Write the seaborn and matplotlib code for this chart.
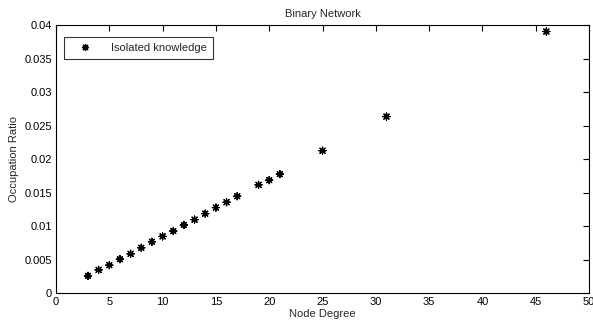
import matplotlib
matplotlib.use("Agg")
import matplotlib.pyplot as plt
import seaborn as sns
import pandas as pd

# Node degree vs. occupation ratio for the binary network
node_degree = [3, 4, 5, 6, 7, 8, 9, 10, 11, 12, 13, 14, 15, 16, 17, 19, 20, 21, 25, 31, 46]
occupation_ratio = [0.0026, 0.0035, 0.0042, 0.0051, 0.0059, 0.0068, 0.0077, 0.0085,
                    0.0093, 0.0102, 0.0110, 0.0119, 0.0128, 0.0136, 0.0145, 0.0162,
                    0.0169, 0.0178, 0.0213, 0.0264, 0.0391]
series_name = "Isolated knowledge"

x_ticks = [0, 5, 10, 15, 20, 25, 30, 35, 40, 45, 50]
y_ticks = [0, 0.005, 0.01, 0.015, 0.02, 0.025, 0.03, 0.035, 0.04]
y_tick_labels = ["0", "0.005", "0.01", "0.015", "0.02", "0.025", "0.03", "0.035", "0.04"]

df = pd.DataFrame({"Node Degree": node_degree, "Occupation Ratio": occupation_ratio,
                   "series": series_name})

sns.set_style("white")
plt.rcParams["font.family"] = ["Liberation Sans", "DejaVu Sans"]
plt.rcParams["font.size"] = 8

fig = plt.figure(figsize=(5.93, 3.24), dpi=100)
ax = fig.add_axes([0.0944, 0.0948, 0.8989, 0.8265])

sns.scatterplot(data=df, x="Node Degree", y="Occupation Ratio", hue="series",
                palette=["black"], marker=(8, 2, 0), s=26, linewidth=0.9,
                ax=ax, legend=True)

ax.set_xlim(0, 50)
ax.set_ylim(0, 0.04)
ax.set_xticks(x_ticks)
ax.set_xticklabels([str(t) for t in x_ticks])
ax.set_yticks(y_ticks)
ax.set_yticklabels(y_tick_labels)
ax.tick_params(direction="in", length=4, width=0.8, top=True, right=True,
               labelsize=8, colors="black", pad=3)
for side in ax.spines.values():
    side.set_color("black")
    side.set_linewidth(0.8)

ax.set_title("Binary Network", fontsize=8, pad=6)
ax.set_xlabel("Node Degree", fontsize=8, labelpad=1)
ax.set_ylabel("Occupation Ratio", fontsize=8, labelpad=4)

leg = ax.legend(loc="upper left", bbox_to_anchor=(0.015, 0.957), frameon=True,
                fancybox=False, fontsize=8, borderpad=0.55, handletextpad=1.1,
                borderaxespad=0.0, handlelength=2.6)
leg.get_frame().set_edgecolor("black")
leg.get_frame().set_linewidth(0.8)

fig.savefig("out.png", dpi=100)
